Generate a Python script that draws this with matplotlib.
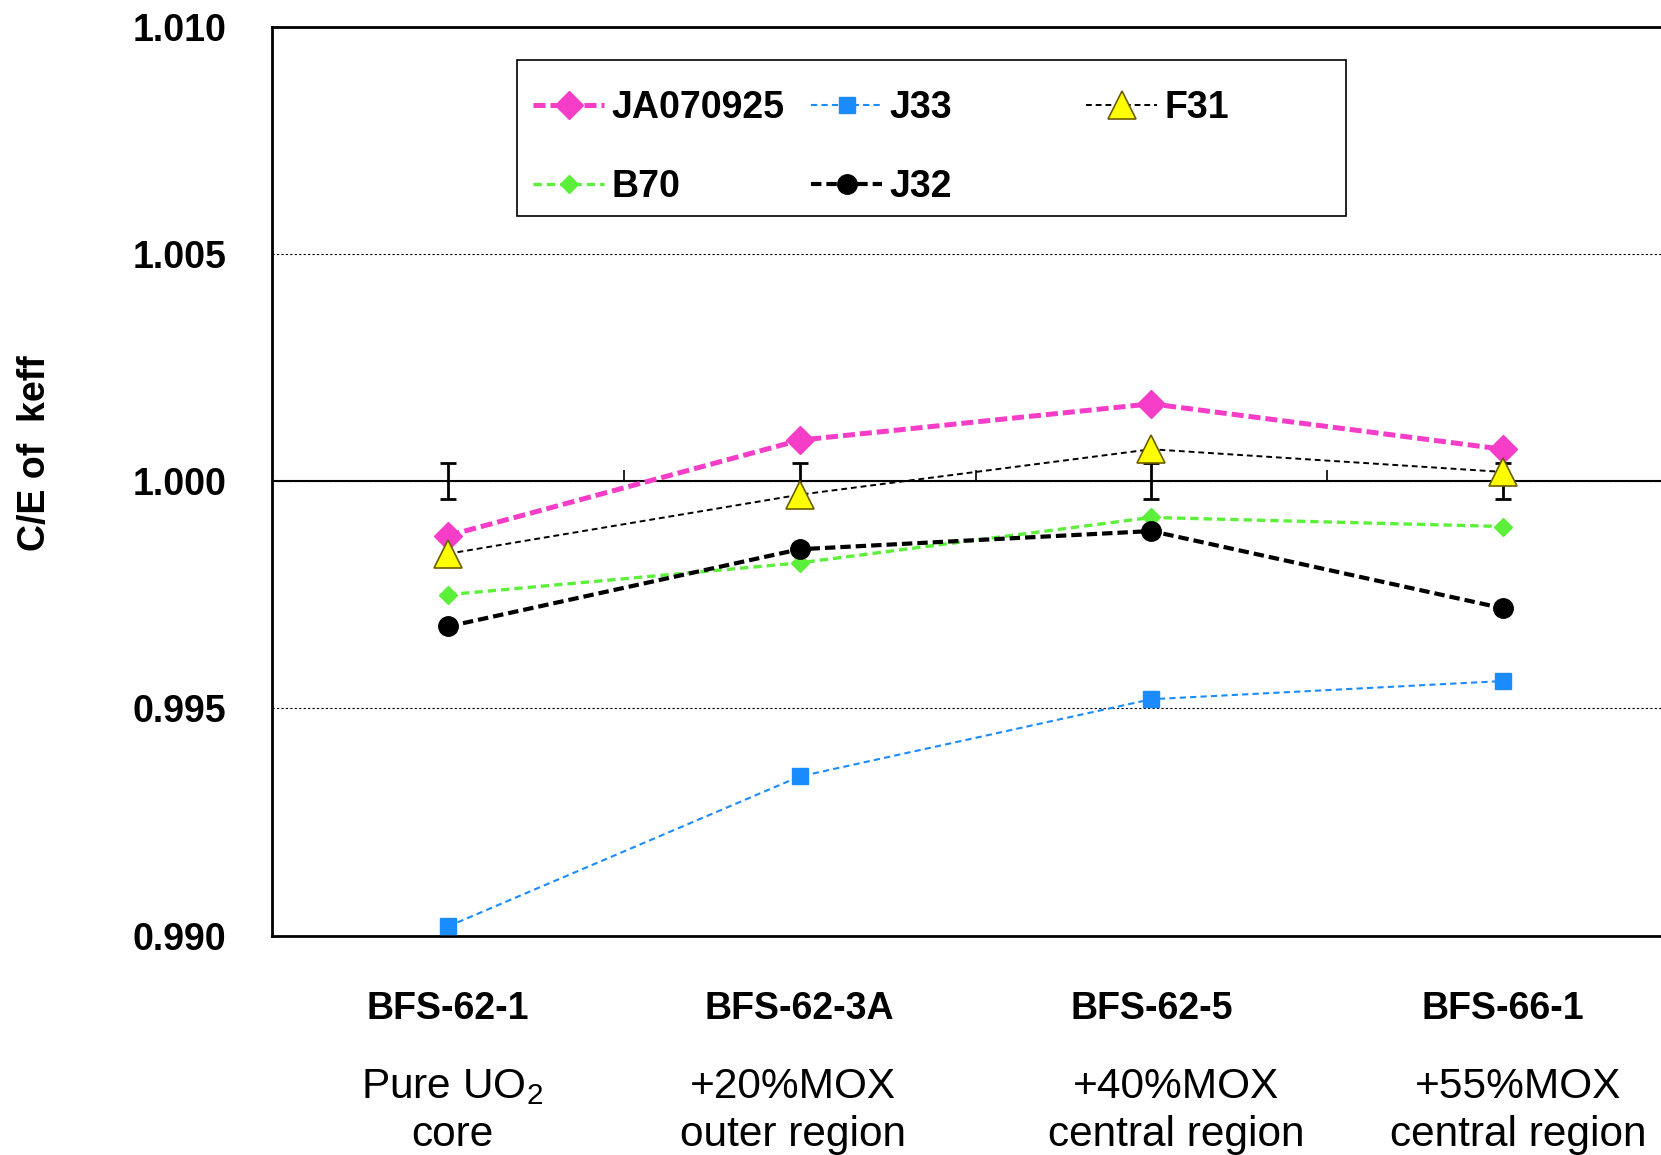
import numpy as np
import matplotlib
matplotlib.use("Agg")
import matplotlib.pyplot as plt
from matplotlib.patches import Rectangle
from matplotlib.transforms import blended_transform_factory

plt.rcParams["font.family"] = ["Liberation Sans", "DejaVu Sans"]

# core names and descriptions shown under the plot
cores = ["BFS-62-1", "BFS-62-3A", "BFS-62-5", "BFS-66-1"]
core_line1 = ["Pure UO$\\mathregular{_2}$", "+20%MOX", "+40%MOX", "+55%MOX"]
core_line2 = ["core", "outer region", "central region", "central region"]

# C/E values per library
ja070925 = [0.9988, 1.0009, 1.0017, 1.0007]
j33 = [0.9902, 0.9935, 0.9952, 0.9956]
f31 = [0.9984, 0.9997, 1.0007, 1.0002]
b70 = [0.9975, 0.9982, 0.9992, 0.9990]
j32 = [0.9968, 0.9985, 0.9989, 0.9972]

# experimental uncertainty around 1.000
exp_err = [0.0004, 0.0004, 0.0004, 0.0004]

yticks = [0.990, 0.995, 1.000, 1.005, 1.010]

x = np.arange(len(cores))

fig = plt.figure(figsize=(16.61, 11.55), dpi=100)
ax = fig.add_axes([0.1638, 0.190, 0.8362, 0.787])

ax.errorbar(x, np.ones(len(x)), yerr=exp_err, fmt="none", ecolor="black",
            elinewidth=2, capsize=6, capthick=2, zorder=3)

l_ja, = ax.plot(x, ja070925, color="#F53DC8", lw=3.6, dashes=(2.4, 1),
                marker="D", ms=14, zorder=2)
l_j33, = ax.plot(x, j33, color="#1A8CFF", lw=1.5, dashes=(3, 2),
                 marker="s", ms=12, zorder=4)
l_f31, = ax.plot(x, f31, color="black", lw=1.4, dashes=(3, 2),
                 marker="^", ms=20, mfc="#FFFF00", mec="#6B5E00", mew=1.2, zorder=4)
l_b70, = ax.plot(x, b70, color="#5CF03A", lw=2.4, dashes=(2.5, 1.5),
                 marker="D", ms=9, zorder=2)
l_j32, = ax.plot(x, j32, color="black", lw=3.0, dashes=(2.5, 1.2),
                 marker="o", ms=14, zorder=2)

# reference line at 1.000 with category separators
ax.axhline(1.0, color="black", lw=1.5, zorder=1)
ax.vlines(x[:-1] + 0.5, 1.0, 1.00025, color="black", lw=1.2, zorder=1)

ax.set_xlim(-0.5, 3.449)
ax.set_ylim(0.990, 1.010)
ax.set_xticks([])
ax.set_yticks(yticks)
ax.set_yticklabels([f"{v:.3f}" for v in yticks], fontsize=27, fontweight="bold")
ax.tick_params(axis="y", length=0, pad=33)
ax.grid(axis="y", color="black", lw=0.8, ls=(0, (2, 2)))
ax.set_axisbelow(True)

for side in ["left", "top", "bottom"]:
    ax.spines[side].set_linewidth(2)
ax.spines["right"].set_visible(False)

fig.text(0.021, 0.608, "C/E of  keff", rotation=90, fontsize=27,
         fontweight="bold", ha="center", va="center")

trans = blended_transform_factory(ax.transData, fig.transFigure)
sub_dx = [0.012, -0.018, 0.07, 0.042]
for i, name in enumerate(cores):
    ax.text(x[i], 0.126, name, transform=trans, ha="center", va="center",
            fontsize=27, fontweight="bold")
    ax.text(x[i] + sub_dx[i], 0.0495, core_line1[i], transform=trans,
            ha="center", va="baseline", fontsize=30.5)
    ax.text(x[i] + sub_dx[i], 0.0075, core_line2[i], transform=trans,
            ha="center", va="baseline", fontsize=30.5)

leg_kw = dict(frameon=False, prop={"size": 27, "weight": "bold"},
              handlelength=1.9, handletextpad=0.2, labelspacing=1.13,
              borderpad=0, borderaxespad=0, loc="upper left",
              bbox_transform=fig.transFigure)
leg_a = ax.legend([l_ja, l_b70, l_j33, l_j32], ["JA070925", "B70", "J33", "J32"],
                  ncol=2, columnspacing=0.7,
                  bbox_to_anchor=(533 / 1661, 1 - 90.5 / 1155), **leg_kw)
ax.add_artist(leg_a)
ax.legend([l_f31], ["F31"], bbox_to_anchor=(1086 / 1661, 1 - 90.5 / 1155), **leg_kw)

fig.add_artist(Rectangle((517 / 1661, 1 - 216 / 1155), (1346 - 517) / 1661,
                         (216 - 60) / 1155, transform=fig.transFigure,
                         fill=False, ec="black", lw=1.2))

fig.savefig("out.png", dpi=100)
